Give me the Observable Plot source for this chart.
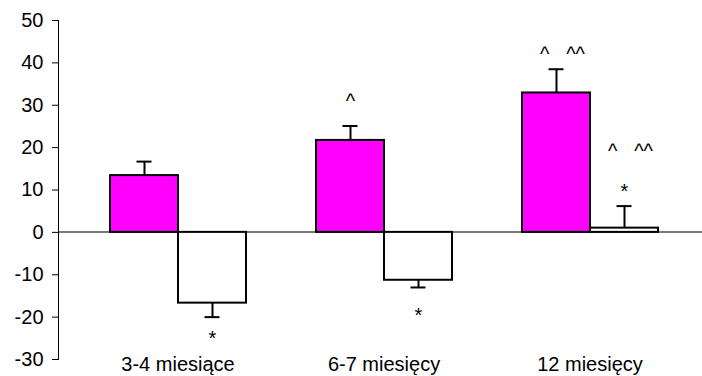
<!DOCTYPE html>
<html>
<head>
<meta charset="utf-8">
<script src="https://cdn.jsdelivr.net/npm/d3@7"></script>
<script src="https://cdn.jsdelivr.net/npm/@observablehq/plot@0.6"></script>
<style>
  html, body { margin: 0; padding: 0; background: #fff; }
  #chart svg { display: block; }
</style>
</head>
<body>
<div id="chart"></div>
<script>
// Age groups on the category axis
const categories = ["3-4 miesiące", "6-7 miesięcy", "12 miesięcy"];
// Two series per age group
const series = ["seria 1", "seria 2"];
const valuesS1 = [13.4, 21.7, 32.9];
const errorsS1 = [3.3, 3.4, 5.6];
const valuesS2 = [-16.7, -11.3, 1.0];
const errorsS2 = [3.3, 1.7, 5.2];
const seriesColors = ["#ff00ff", "#ffffff"];
const yTicks = [-30, -20, -10, 0, 10, 20, 30, 40, 50];

// Significance markers above / below the bars
const noteCategory = ["3-4 miesiące", "6-7 miesięcy", "6-7 miesięcy", "12 miesięcy", "12 miesięcy", "12 miesięcy"];
const noteSeries = ["seria 2", "seria 1", "seria 2", "seria 1", "seria 2", "seria 2"];
const noteText = ["*", "^", "*", "^   ^^", "^   ^^", "*"];
const noteY = [-26.6, 29.3, -21.2, 40.4, 17.5, 8.1];

const rows = categories.flatMap((c, i) => [
  {category: c, series: series[0], value: valuesS1[i], err: errorsS1[i]},
  {category: c, series: series[1], value: valuesS2[i], err: errorsS2[i]}
]);
const errEnd = (d) => d.value + Math.sign(d.value) * d.err;

const notes = noteText.map((t, i) => ({category: noteCategory[i], series: noteSeries[i], text: t, y: noteY[i]}));
const wide = (d) => d.text.length > 1;

const font = "'Liberation Sans', Arial, sans-serif";

const chart = Plot.plot({
  width: 702,
  height: 376,
  marginLeft: 73,
  marginRight: 8.5,
  marginTop: 20,
  marginBottom: 17,
  style: {fontFamily: font, fontSize: "20px", background: "#fff", color: "#000"},
  fx: {domain: categories, paddingInner: 1 / 3, paddingOuter: 1 / 6, label: null},
  x: {domain: series, padding: 0, axis: null},
  y: {domain: [-30, 50], label: null},
  color: {domain: series, range: seriesColors},
  marks: [
    // horizontal axis through zero, spanning the gaps between groups
    Plot.ruleY([0], {stroke: "#7a7a7a", strokeWidth: 2, insetLeft: -51, insetRight: -44, shapeRendering: "crispEdges"}),
    Plot.barY(rows, {fx: "category", x: "series", y: "value", fill: "series", stroke: "#000", strokeWidth: 2}),
    // one-sided error bars
    Plot.ruleX(rows, {fx: "category", x: "series", y1: "value", y2: errEnd, stroke: "#000", strokeWidth: 2}),
    Plot.tickY(rows, {fx: "category", x: "series", y: errEnd, stroke: "#000", strokeWidth: 2, insetLeft: 26.5, insetRight: 26.5}),
    Plot.text(notes.filter((d) => !wide(d)), {fx: "category", x: "series", y: "y", text: "text", lineAnchor: "bottom", fontSize: 20, fill: "#000"}),
    Plot.text(notes.filter(wide), {fx: "category", x: "series", y: "y", text: "text", lineAnchor: "bottom", fontSize: 20, fill: "#000", dx: 6}),
    Plot.frame({anchor: "left", facetAnchor: "left", dx: -51, stroke: "#000"}),
    Plot.axisY({ticks: yTicks, tickFormat: (d) => String(d), tickSize: 6, tickPadding: 9, fontSize: 20, dx: -51, facetAnchor: "left", label: null}),
    Plot.axisFx({anchor: "bottom", tickSize: 0, tickPadding: 0, fontSize: 20, dy: -3, label: null})
  ]
});

document.getElementById("chart").appendChild(chart);
</script>
</body>
</html>
